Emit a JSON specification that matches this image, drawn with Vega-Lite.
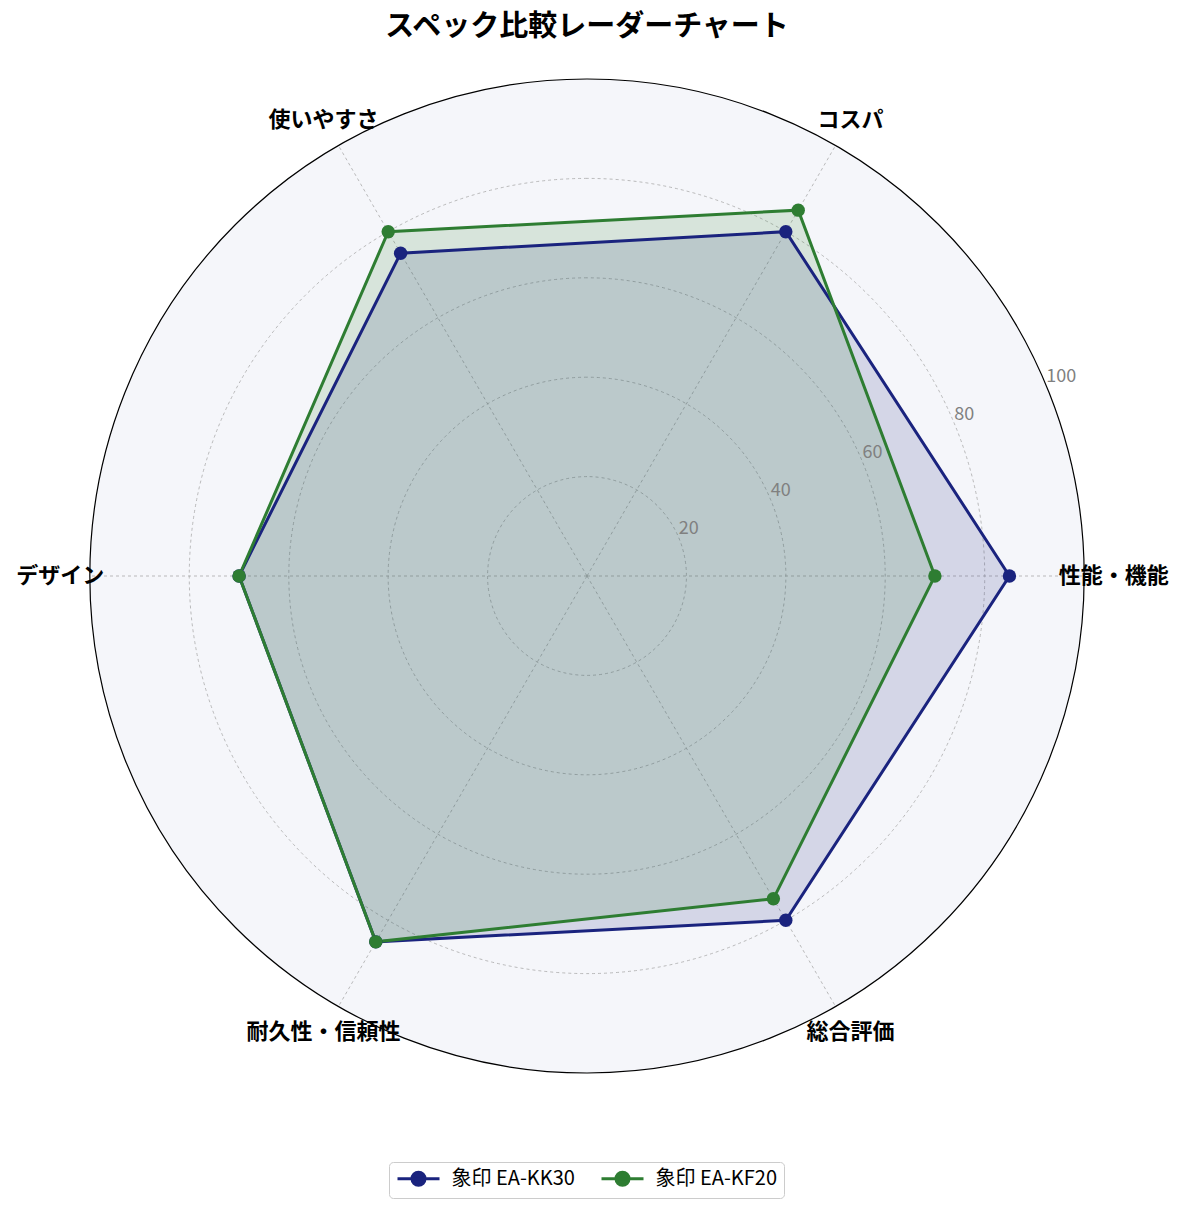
{
  "$schema": "https://vega.github.io/schema/vega-lite/v6.json",
  "width": 994,
  "height": 994,
  "autosize": {"type": "none"},
  "padding": {"left": 90, "top": 79, "right": 101, "bottom": 138},
  "background": "white",
  "title": {
    "text": "スペック比較レーダーチャート",
    "font": "Noto Sans CJK JP",
    "fontSize": 29,
    "fontWeight": "bold",
    "color": "#000000",
    "anchor": "middle",
    "offset": 35
  },
  "config": {"view": {"stroke": null}, "font": "Noto Sans CJK JP"},
  "datasets": {
    "scores": [
      {"series": "象印 EA-KK30", "axis": "性能・機能", "idx": 0, "value": 85},
      {"series": "象印 EA-KK30", "axis": "コスパ", "idx": 1, "value": 80},
      {"series": "象印 EA-KK30", "axis": "使いやすさ", "idx": 2, "value": 75},
      {"series": "象印 EA-KK30", "axis": "デザイン", "idx": 3, "value": 70},
      {"series": "象印 EA-KK30", "axis": "耐久性・信頼性", "idx": 4, "value": 85},
      {"series": "象印 EA-KK30", "axis": "総合評価", "idx": 5, "value": 80},
      {"series": "象印 EA-KF20", "axis": "性能・機能", "idx": 0, "value": 70},
      {"series": "象印 EA-KF20", "axis": "コスパ", "idx": 1, "value": 85},
      {"series": "象印 EA-KF20", "axis": "使いやすさ", "idx": 2, "value": 80},
      {"series": "象印 EA-KF20", "axis": "デザイン", "idx": 3, "value": 70},
      {"series": "象印 EA-KF20", "axis": "耐久性・信頼性", "idx": 4, "value": 85},
      {"series": "象印 EA-KF20", "axis": "総合評価", "idx": 5, "value": 75}
    ],
    "axes": [
      {"axis": "性能・機能", "idx": 0},
      {"axis": "コスパ", "idx": 1},
      {"axis": "使いやすさ", "idx": 2},
      {"axis": "デザイン", "idx": 3},
      {"axis": "耐久性・信頼性", "idx": 4},
      {"axis": "総合評価", "idx": 5}
    ],
    "rings": [
      {"r": 20}, {"r": 40}, {"r": 60}, {"r": 80}, {"r": 100}
    ]
  },
  "layer": [
    {
      "data": {"values": [{"r": 100}]},
      "mark": {"type": "arc", "fill": "#F5F6FA", "stroke": "#000000", "strokeWidth": 1.2},
      "encoding": {
        "theta": {"field": "r", "type": "quantitative", "stack": null, "scale": {"type": "linear", "domain": [0, 1], "range": [0, 6.283185307179586], "clamp": true}},
        "radius": {"field": "r", "type": "quantitative", "scale": {"type": "linear", "domain": [0, 100], "range": [0, 497], "zero": true}}
      }
    },
    {
      "data": {"name": "rings"},
      "transform": [{"filter": "datum.r < 100"}],
      "mark": {"type": "arc", "filled": false, "stroke": "#aaaaaa", "strokeWidth": 0.8, "strokeDash": [3, 3]},
      "encoding": {
        "theta": {"field": "r", "type": "quantitative", "stack": null},
        "radius": {"field": "r", "type": "quantitative"}
      }
    },
    {
      "data": {"name": "axes"},
      "transform": [
        {"calculate": "100 * cos(datum.idx * PI / 3)", "as": "ex"},
        {"calculate": "100 * sin(datum.idx * PI / 3)", "as": "ey"},
        {"calculate": "0", "as": "cx"}
      ],
      "mark": {"type": "rule", "stroke": "#aaaaaa", "strokeWidth": 0.8, "strokeDash": [3, 3]},
      "encoding": {
        "x": {"field": "cx", "type": "quantitative", "scale": {"domain": [-100, 100], "nice": false, "zero": false}, "axis": null},
        "y": {"field": "cx", "type": "quantitative", "scale": {"domain": [-100, 100], "nice": false, "zero": false}, "axis": null},
        "x2": {"field": "ex"},
        "y2": {"field": "ey"}
      }
    },
    {
      "data": {"name": "scores"},
      "transform": [
        {"calculate": "datum.value * cos(datum.idx * PI / 3)", "as": "x"},
        {"calculate": "datum.value * sin(datum.idx * PI / 3)", "as": "y"}
      ],
      "mark": {"type": "line", "interpolate": "linear-closed", "fillOpacity": 0.15, "strokeOpacity": 0},
      "encoding": {
        "x": {"field": "x", "type": "quantitative", "axis": null},
        "y": {"field": "y", "type": "quantitative", "axis": null},
        "order": {"field": "idx", "type": "quantitative"},
        "detail": {"field": "series", "type": "nominal"},
        "fill": {"field": "series", "type": "nominal", "scale": {"domain": ["象印 EA-KF20", "象印 EA-KK30"], "range": ["#2e7d32", "#1a237e"]}, "legend": null}
      }
    },
    {
      "data": {"name": "rings"},
      "transform": [
        {"calculate": "datum.r * cos(PI / 8)", "as": "tx"},
        {"calculate": "datum.r * sin(PI / 8)", "as": "ty"}
      ],
      "mark": {"type": "text", "align": "left", "baseline": "bottom", "fontSize": 18, "fill": "#808080", "font": "Noto Sans CJK JP"},
      "encoding": {
        "x": {"field": "tx", "type": "quantitative"},
        "y": {"field": "ty", "type": "quantitative"},
        "text": {"field": "r", "type": "quantitative"}
      }
    },
    {
      "data": {"name": "scores"},
      "transform": [
        {"calculate": "datum.value * cos(datum.idx * PI / 3)", "as": "x"},
        {"calculate": "datum.value * sin(datum.idx * PI / 3)", "as": "y"}
      ],
      "mark": {"type": "line", "interpolate": "linear-closed", "strokeWidth": 3},
      "encoding": {
        "x": {"field": "x", "type": "quantitative"},
        "y": {"field": "y", "type": "quantitative"},
        "order": {"field": "idx", "type": "quantitative"},
        "color": {
          "field": "series", "type": "nominal",
          "scale": {"domain": ["象印 EA-KK30", "象印 EA-KF20"], "range": ["#1a237e", "#2e7d32"]}
        }
      }
    },
    {
      "data": {"name": "scores"},
      "transform": [
        {"calculate": "datum.value * cos(datum.idx * PI / 3)", "as": "x"},
        {"calculate": "datum.value * sin(datum.idx * PI / 3)", "as": "y"}
      ],
      "mark": {"type": "point", "filled": true, "size": 180, "opacity": 1},
      "encoding": {
        "x": {"field": "x", "type": "quantitative"},
        "y": {"field": "y", "type": "quantitative"},
        "color": {
          "field": "series", "type": "nominal",
          "legend": {
            "title": null,
            "orient": "none",
            "legendX": 299,
            "legendY": 1083,
            "direction": "horizontal",
            "symbolType": "M-1,0L4.25,0M0.8125,0A0.8125,0.8125,0,1,1,2.4375,0A0.8125,0.8125,0,1,1,0.8125,0Z",
            "symbolSize": 256,
            "symbolStrokeWidth": 3,
            "labelFont": "Noto Sans CJK JP",
            "labelFontSize": 20,
            "labelColor": "#000000",
            "labelOffset": 36,
            "columnPadding": 20,
            "padding": 6.5,
            "strokeColor": "#cccccc",
            "fillColor": "#ffffff",
            "cornerRadius": 4,
            "encode": {
              "symbols": {
                "update": {
                  "fill": {"scale": "color", "field": "value"},
                  "stroke": {"scale": "color", "field": "value"},
                  "strokeWidth": {"value": 3},
                  "opacity": {"value": 1}
                }
              }
            }
          }
        }
      }
    },
    {
      "data": {"name": "axes"},
      "transform": [
        {"calculate": "106 * cos(datum.idx * PI / 3)", "as": "lx"},
        {"calculate": "106 * sin(datum.idx * PI / 3)", "as": "ly"}
      ],
      "mark": {"type": "text", "align": "center", "baseline": "middle", "fontSize": 22, "fontWeight": "bold", "fill": "#000000", "font": "Noto Sans CJK JP"},
      "encoding": {
        "x": {"field": "lx", "type": "quantitative"},
        "y": {"field": "ly", "type": "quantitative"},
        "text": {"field": "axis", "type": "nominal"}
      }
    }
  ]
}
